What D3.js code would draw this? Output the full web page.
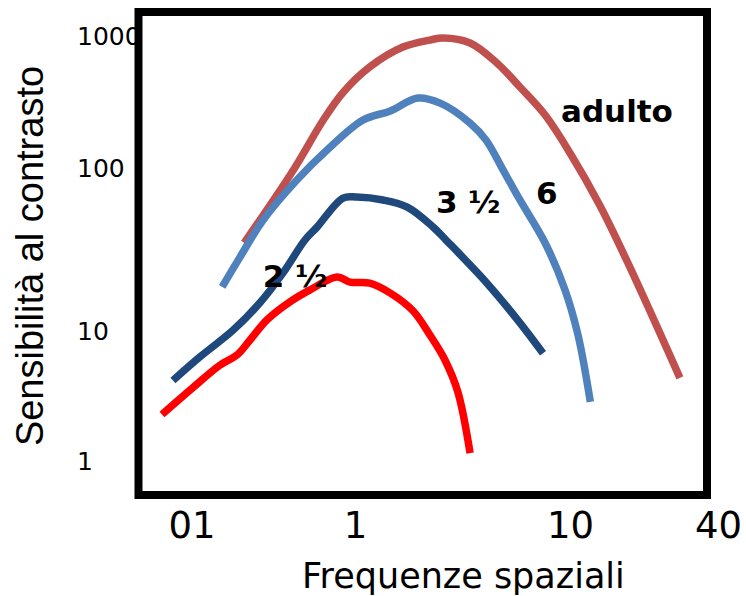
<!DOCTYPE html>
<html>
<head>
<meta charset="utf-8">
<script src="https://cdn.jsdelivr.net/npm/d3@7"></script>
<style>
    body { margin: 0; background: #fff; }
    svg { display: block; }
</style>
</head>
<body>
<div id="viz"></div>
<script>
const xTicks = [0.1, 1, 10, 40],
    xTickLabels = ['01', '1', '10', '40']
const yTicks = [1, 10, 100, 1000],
    yTickLabels = ['1', '10', '100', '1000']

const adultoFreq = [0.21, 0.42, 0.64, 0.85, 1.17, 1.67, 2.23, 2.57, 3.43, 4.57, 5.85, 7.66, 10, 13.2, 17.5, 28]
const adultoSens = [35, 98, 233, 380, 587, 832, 940, 975, 893, 630, 414, 254, 131, 59.7, 24.9, 4.4]

const seiFreq = [0.154, 0.198, 0.273, 0.441, 0.675, 1.09, 1.46, 1.96, 2.49, 3.43, 4.07, 4.88, 5.85, 7.66, 9.48, 10.78, 12.1]
const seiSens = [18.8, 28.6, 48, 85, 138, 233, 273, 342, 313, 221, 164, 98, 64.1, 34.9, 18, 9.4, 2.87]

const treFreq = [0.077, 0.113, 0.18, 0.262, 0.363, 0.494, 0.586, 0.845, 1.02, 1.35, 1.75, 2.31, 2.65, 4.11, 5.85, 7.49]
const treSens = [4.2, 6.4, 10.2, 15, 22.9, 36.4, 43.7, 65.9, 66.8, 64.1, 58, 43.7, 36.4, 19.8, 11.3, 6.8]

const dueFreq = [0.066, 0.102, 0.149, 0.19, 0.228, 0.29, 0.40, 0.531, 0.776, 0.932, 1.17, 1.46, 1.86, 2.23, 2.62, 3.01, 3.43]
const dueSens = [2.3, 3.7, 5.5, 6.6, 8.6, 11.8, 15.2, 18, 21.6, 20.1, 19.8, 17.2, 13.4, 9.4, 6.04, 3.42, 1.16]

const labelText = ['adulto', '6', '3 ½', '2 ½'],
    labelFreq = [9.08, 6.95, 2.38, 0.273],
    labelSens = [225, 60.5, 53.3, 18.8]

const width = 746,
    height = 596

const svg = d3.select('#viz').append('svg')
    .attr('width', width)
    .attr('height', height)

// the original picture's decades are not evenly spaced, so the log scales are piecewise
const x = d3.scaleLog()
    .domain(xTicks)
    .range([191.5, 355, 570, 718])

const y = d3.scaleLog()
    .domain(yTicks)
    .range([461.5, 331.5, 168.5, 36.5])

const yAxisG = svg.append('g')
    .attr('transform', 'translate(77, 0)')
    .call(d3.axisLeft(y).tickValues(yTicks).tickFormat((d, i) => yTickLabels[i]).tickSize(0))
yAxisG.select('.domain').remove()
yAxisG.selectAll('text')
    .attr('x', 0)
    .attr('text-anchor', 'start')
    .style('font-family', 'DejaVu Sans')
    .style('font-size', '25px')
    .style('fill', '#000')

const xAxisG = svg.append('g')
    .attr('transform', 'translate(0, 512)')
    .call(d3.axisBottom(x).tickValues(xTicks).tickFormat((d, i) => xTickLabels[i]).tickSize(0).tickPadding(0))
xAxisG.select('.domain').remove()
xAxisG.selectAll('text')
    .style('font-family', 'DejaVu Sans')
    .style('font-size', '37px')
    .style('fill', '#000')

svg.append('rect')
    .attr('x', 138.5)
    .attr('y', 12)
    .attr('width', 707 - 138.5)
    .attr('height', 495 - 12)
    .attr('fill', 'none')
    .attr('stroke', '#000')
    .attr('stroke-width', 8)

const series = [
    { freq: adultoFreq, sens: adultoSens, color: '#C0504D' },
    { freq: seiFreq, sens: seiSens, color: '#4F81BD' },
    { freq: treFreq, sens: treSens, color: '#1F497D' },
    { freq: dueFreq, sens: dueSens, color: '#FF0000' }
]

const line = d3.line()
    .x(d => x(d[0]))
    .y(d => y(d[1]))
    .curve(d3.curveCatmullRom.alpha(0.5))

svg.selectAll('path.curve').data(series)
    .enter()
    .append('path')
    .attr('class', 'curve')
    .attr('d', s => line(d3.zip(s.freq, s.sens)))
    .attr('fill', 'none')
    .attr('stroke', s => s.color)
    .attr('stroke-width', 7.5)
    .attr('stroke-linecap', 'butt')
    .attr('stroke-linejoin', 'round')

svg.selectAll('text.age').data(labelText)
    .enter()
    .append('text')
    .attr('class', 'age')
    .attr('x', (d, i) => x(labelFreq[i]))
    .attr('y', (d, i) => y(labelSens[i]))
    .style('font-family', 'DejaVu Sans')
    .style('font-weight', 'bold')
    .style('font-size', '31px')
    .text(d => d)

svg.append('text')
    .attr('x', 302)
    .attr('y', 588)
    .style('font-family', 'DejaVu Sans')
    .style('font-size', '35px')
    .text('Frequenze spaziali')

svg.append('text')
    .attr('transform', 'translate(43, 256) rotate(-90)')
    .attr('text-anchor', 'middle')
    .style('font-family', 'Liberation Sans, Arial, sans-serif')
    .style('font-size', '38px')
    .text('Sensibilità al contrasto')
</script>
</body>
</html>
